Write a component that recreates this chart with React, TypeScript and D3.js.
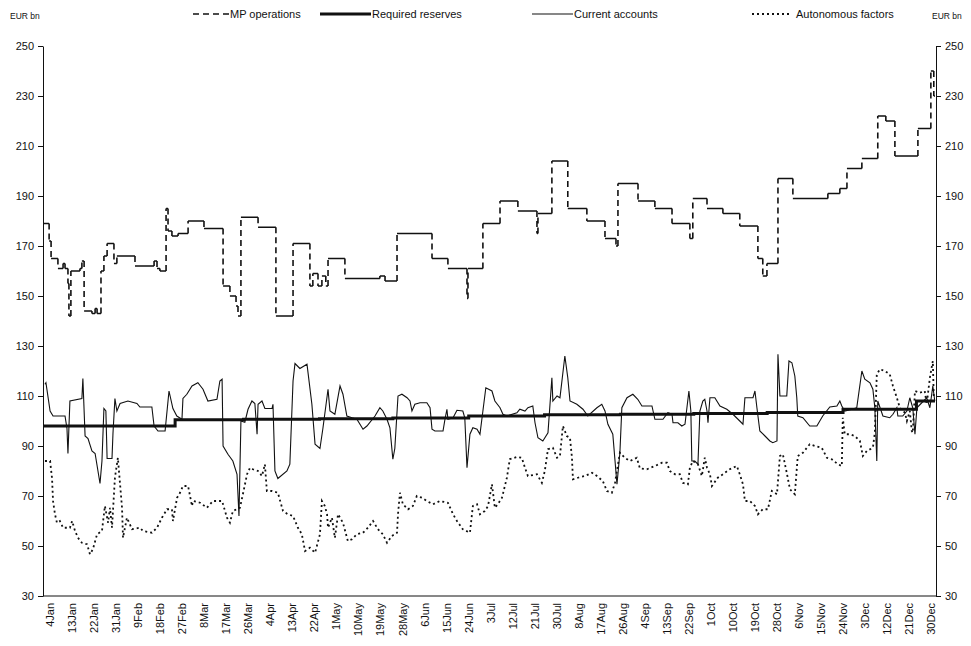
import React, { useEffect, useRef } from 'react';
import * as d3 from 'd3';

// x positions are days counted from 1 Jan 1999
const YEAR_START = new Date(1999, 0, 1);
const YEAR_END = new Date(2000, 0, 1);

const tickLabels = [
  '4Jan', '13Jan', '22Jan', '31Jan', '9Feb', '18Feb', '27Feb', '8Mar', '17Mar', '26Mar',
  '4Apr', '13Apr', '22Apr', '1May', '10May', '19May', '28May', '6Jun', '15Jun', '24Jun',
  '3Jul', '12Jul', '21Jul', '30Jul', '8Aug', '17Aug', '26Aug', '4Sep', '13Sep', '22Sep',
  '1Oct', '10Oct', '19Oct', '28Oct', '6Nov', '15Nov', '24Nov', '3Dec', '12Dec', '21Dec', '30Dec',
];
const yTicks = [30, 50, 70, 90, 110, 130, 150, 170, 190, 210, 230, 250];

// [day, EUR bn]
const mpOperations: [number, number][] = [
  [0, 179], [2.5, 172], [3.3, 165], [6.1, 161], [8.2, 163], [9, 161], [10.2, 155], [10.6, 142],
  [11.4, 160], [15.1, 161], [15.9, 164], [16.8, 144], [20, 143], [21.3, 145], [22.1, 143],
  [23.7, 160], [24.9, 166], [26.2, 171], [29, 163], [30.2, 166], [37.6, 162], [45.4, 164],
  [46.6, 161], [47.8, 160], [50.3, 185], [51.1, 176], [52.7, 174], [55.2, 175], [59.3, 180],
  [65.8, 177], [73.6, 154], [76.4, 150], [78.9, 146], [79.7, 142], [80.9, 181.5], [87.9, 177.5],
  [95.2, 142], [102.2, 171], [109.1, 154], [110.3, 159], [112.4, 154], [114, 158], [115.6, 154],
  [116.5, 165], [123.4, 157], [137.7, 158], [139.8, 156], [144.7, 175], [159, 165], [165.5, 161],
  [173.3, 149], [173.7, 161], [179.8, 179], [186.8, 188], [194.1, 184], [201.9, 175], [202.3, 183],
  [208, 204], [214.5, 185], [222.3, 180], [229.7, 173], [234.2, 170], [235, 195], [243.2, 188],
  [250.1, 185], [257.1, 179], [264.4, 173], [265.6, 189], [271.4, 185], [277.9, 183], [284.8, 178],
  [292.2, 165], [294.2, 158], [295.9, 163], [300.4, 197], [306.5, 189], [320.8, 191], [325.7, 193],
  [328.6, 201], [334.7, 205], [341.2, 222], [344.5, 220], [348.2, 206], [357.6, 217], [362.9, 240],
  [364.1, 230], [364.6, 230],
];

const requiredReserves: [number, number][] = [
  [0, 98], [54, 100.5], [82, 100.7], [113, 100.9], [143, 101.2], [174, 102], [205, 102.5],
  [236, 102.7], [266, 103], [296, 103.4], [327, 104.7], [357, 108], [364.6, 108],
];

const currentAccounts: [number, number][] = [
  [0.8, 114.7], [1.2, 115.3], [2.9, 104], [4.1, 102], [9, 102], [9.8, 97], [10.2, 87], [11, 108],
  [15.9, 109], [16.3, 117], [17.2, 94], [18.4, 93], [20, 88], [21.3, 87], [23.3, 75], [24.1, 84],
  [24.9, 105], [25.7, 104], [26.2, 85], [28.2, 85], [28.6, 95], [29.4, 109], [30.2, 104],
  [31.5, 107], [34.7, 108], [38.4, 107], [39.6, 105.6], [44.5, 105.6], [45.4, 98], [47, 96],
  [49.9, 96], [51.1, 108], [51.5, 112], [53.1, 105], [54.7, 102], [56.8, 100.7], [57.2, 109],
  [58.8, 110.7], [60.9, 114], [63.3, 115.3], [65.4, 112.7], [67.4, 108], [71.1, 108.7], [72.3, 116],
  [73.2, 116.7], [73.6, 90], [75.6, 86.7], [77.6, 84], [79.3, 78.7], [80.1, 62], [80.9, 100],
  [82.5, 99.5], [83.8, 104.7], [85.4, 108], [86.6, 107], [87.5, 94.7], [87.9, 106.7], [89.5, 108],
  [90.7, 105], [93.6, 105], [94, 106.7], [94.8, 80], [96, 77], [99.7, 80], [100.9, 82.7],
  [102.2, 116], [103, 123], [105, 121], [107.9, 122.7], [109.9, 106.7], [111.2, 90.7], [113.2, 89],
  [114.4, 97], [116.5, 112.7], [117.3, 104], [119.3, 102.7], [121.4, 114], [122.6, 110.7],
  [124.2, 102], [126.3, 101.3], [128.3, 100.7], [130.8, 96.7], [132.4, 98], [135.7, 102],
  [137.7, 105.3], [138.9, 104], [140.6, 100.7], [141.8, 97.3], [143, 84.7], [143.8, 89],
  [145.1, 110], [146.7, 110.7], [148.8, 109.3], [150, 108], [150.8, 104], [152, 106.7],
  [154.1, 107.3], [156.9, 107.3], [158.2, 105.3], [159, 96.7], [160.2, 96], [163.5, 96],
  [164.3, 100.7], [165.1, 104.7], [165.5, 100.7], [167.6, 101.3], [169.2, 104.3], [171.6, 104],
  [172.4, 101.3], [173.3, 81.3], [174.5, 94.7], [175.7, 97.3], [177.4, 96.7], [178.6, 94.7],
  [179.8, 104], [181, 113.3], [183.5, 112], [184.7, 108], [186.8, 105.3], [188, 102.7],
  [189.6, 102], [193.7, 103.3], [194.9, 104.7], [197, 104], [198.2, 105.3], [200.2, 106],
  [201.1, 99.3], [202.3, 93.3], [204.3, 92], [206.4, 95.3], [208, 117.3], [208.4, 108],
  [210.1, 110], [211.3, 109.3], [213.3, 126], [214.5, 117.3], [215.4, 108], [218.2, 106.7],
  [220.7, 104.7], [222.7, 102], [226.4, 105.3], [228.4, 106.7], [229.7, 104], [230.9, 98.7],
  [232.9, 94.7], [234.6, 74.7], [235.8, 87.3], [236.6, 105.3], [238.7, 109.3], [241.1, 110.7],
  [243.1, 108.7], [244.8, 106], [248.9, 106], [250.1, 100.7], [253.4, 100.7], [255.4, 103.3],
  [257.1, 102.7], [257.5, 99.3], [259.5, 99.3], [261.1, 98], [262.4, 98.7], [264, 112], [264.8, 104],
  [265.2, 84], [266.4, 84], [267.7, 82.7], [268.5, 104], [269.7, 108], [270.5, 108.7], [271.4, 104],
  [271.8, 99.3], [272.6, 109.3], [274.6, 109.3], [276.7, 106], [279.5, 104.7], [282, 102.7],
  [284.8, 100], [286.1, 98.7], [286.9, 109.3], [290.2, 109.3], [291, 112], [291.8, 105.3],
  [293, 96], [295.1, 94], [297.1, 92], [298.3, 91.3], [300, 92], [300.4, 126.7], [301.2, 110],
  [304, 110], [304.9, 124], [306.1, 123.3], [307.3, 118], [308.1, 109.3], [308.5, 102],
  [310.6, 101.3], [313.4, 98], [316.3, 98], [318.7, 102], [321.6, 105.6], [324.5, 106],
  [325.7, 108], [326.5, 106], [327.7, 104], [330.6, 104.7], [332.6, 105.3], [334.7, 120],
  [335.9, 116.7], [338, 115.3], [339.2, 112.7], [340, 105.3], [340.8, 84], [341.2, 108],
  [343.3, 102], [346.1, 101.3], [347.4, 102.7], [349, 105.3], [349.4, 102], [351.4, 102],
  [353.1, 104], [354.3, 109.3], [355.5, 105.3], [356.4, 94.7], [357.2, 105.3], [359.2, 107.3],
  [361.2, 109.3], [362.5, 105.3], [363.7, 114], [364.5, 108],
];

const autonomousFactors: [number, number][] = [
  [0.8, 84], [2.9, 84], [3.7, 77], [4.1, 68], [4.9, 62.7], [5.7, 59.3], [6.9, 60], [8.2, 57.3],
  [11, 57.3], [11.9, 60], [13.1, 56], [14.3, 53.3], [15.9, 51.3], [18, 50.7], [19.2, 46.7],
  [20.4, 48.7], [22.1, 54.7], [24.1, 56], [25.3, 66], [26.6, 59.3], [27.4, 65.3], [28.2, 57.3],
  [29.4, 77.3], [30.6, 85.3], [32.3, 65.3], [32.7, 53.3], [34.3, 61.3], [36.4, 56.7], [39.6, 57.3],
  [40.9, 56], [44.5, 55.3], [46.6, 57.3], [48.6, 61.3], [50.7, 64.7], [52.7, 64.7], [53.1, 60],
  [54.8, 69.3], [56, 71.3], [57.2, 74], [59.3, 74], [60.9, 66], [61.3, 68], [64.2, 67.3],
  [67, 65.3], [69.5, 68], [73.2, 68], [75.2, 61.3], [76.4, 59.3], [77.6, 64], [80.5, 65.3],
  [81.7, 70.7], [83.4, 78.7], [84.6, 81.3], [85.8, 80.7], [87.9, 80], [89.5, 78], [90.7, 82.7],
  [91.5, 72], [93.6, 72], [96, 71.3], [98.1, 64], [100.1, 62.7], [102.2, 62], [104.2, 57.3],
  [105.8, 54.7], [107.1, 48], [109.1, 49.3], [111.2, 47.3], [113.2, 54.7], [114, 68], [115.2, 66],
  [116.1, 62.7], [116.5, 57.3], [118.1, 61.3], [119.3, 53.3], [120.6, 62.7], [122.6, 59.3],
  [124.6, 52], [126.3, 52.7], [128.3, 54.7], [130.8, 55.3], [132.8, 57.3], [134.9, 60],
  [136.9, 56.7], [138.9, 54.7], [140.6, 51.3], [142.6, 54], [144.7, 55.3], [145.1, 62.7],
  [145.9, 71.3], [147.1, 66.7], [149.2, 64.7], [151.2, 66], [152.8, 70], [154.9, 69.3], [156.9, 68],
  [159.4, 66.7], [162.2, 68], [165.5, 67.3], [167.6, 62.7], [169.2, 60], [171.6, 56.7],
  [174.5, 55.3], [175.7, 66], [177.4, 66.7], [178.6, 62.7], [180.6, 64], [181.9, 66], [183.5, 74.7],
  [184.7, 65.3], [185.9, 66.7], [187.6, 69.3], [189.6, 77.3], [190.8, 84.7], [193.7, 85.6],
  [195.7, 85.3], [197, 81.3], [198.2, 78], [201.9, 78.7], [203.9, 75.3], [205.1, 80], [206.4, 88.7],
  [208.4, 89.3], [210.1, 85.3], [211.3, 86], [212.5, 98], [214.1, 94], [215.4, 93.3], [216.2, 85.3],
  [216.6, 76.7], [218.6, 77.3], [221.5, 78], [224.4, 79.3], [226.4, 78], [228.8, 76], [230.5, 72],
  [232.5, 71.3], [233.8, 75.3], [235.8, 87.3], [237.8, 85.3], [239.9, 84], [242.7, 85.3], [244, 81],
  [246.8, 80.7], [250.1, 82], [253, 83.3], [255, 83.3], [256.2, 80], [258.3, 78.7], [260.3, 78.7],
  [261.5, 75.3], [263.6, 74.7], [264.4, 81.3], [265.6, 84], [267.7, 82.7], [269.3, 78],
  [270.5, 85.3], [271.4, 81.3], [272.6, 78.7], [273.4, 74], [275.8, 77.3], [277.9, 78.7],
  [280.7, 80.7], [283.6, 82], [284.8, 78.7], [286.1, 74.7], [286.9, 68], [288.9, 68], [291, 66],
  [292.2, 62.7], [294.2, 64.7], [296.3, 64.7], [297.9, 72], [300, 70.7], [301.2, 86], [302.4, 86.7],
  [304, 79.3], [305.3, 72.7], [307.3, 70.7], [308.5, 86], [310.6, 87.3], [313.4, 90.7], [315.5, 90],
  [318.3, 89.3], [320.4, 85.3], [322.4, 84.7], [324.9, 82.7], [326.5, 82], [326.9, 101.3],
  [327.7, 94.7], [329.8, 94.7], [331.8, 94], [333.9, 92], [335.1, 86], [336.7, 88], [339.2, 89.3],
  [340, 95.3], [340.8, 118.7], [342.1, 120.7], [344.1, 120], [346.1, 118.7], [347.4, 114],
  [349, 109.3], [350.2, 105.3], [352.3, 103.3], [353.1, 100], [354.3, 104], [355.1, 96],
  [355.5, 95.3], [356.4, 112], [358.4, 111.3], [360.4, 112], [361.2, 106.7], [362.5, 117.3],
  [363.7, 124], [364.1, 109.3],
];

const legendLabels = ['MP operations', 'Required reserves', 'Current accounts', 'Autonomous factors'];
const unitLabel = 'EUR bn';

const W = 971;
const H = 646;
const FONT = '"Liberation Sans", Arial, Helvetica, sans-serif';

const toDate = (d: number) => new Date(YEAR_START.getTime() + d * 864e5);
const parseLabel = d3.timeParse('%d%b%Y');

const App = () => {
  const svgRef = useRef<SVGSVGElement>(null);

  useEffect(() => {
    const svg = d3.select(svgRef.current);
    svg.selectAll('*').remove();

    const left = 43;
    const right = 936;
    const top = 46;
    const bottom = 596;

    const x = d3.scaleTime().domain([YEAR_START, YEAR_END]).range([left, right]);
    const y = d3.scaleLinear().domain([30, 250]).range([bottom, top]);

    svg.append('rect').attr('width', W).attr('height', H).attr('fill', '#fff');

    // axes
    const axisL = svg.append('g').attr('transform', `translate(${left},0)`)
      .call(d3.axisLeft(y).tickValues(yTicks).tickSize(5).tickSizeOuter(0).tickPadding(4));
    const axisR = svg.append('g').attr('transform', `translate(${right},0)`)
      .call(d3.axisRight(y).tickValues(yTicks).tickSize(5).tickSizeOuter(0).tickPadding(4));
    [axisL, axisR].forEach((g) => {
      g.selectAll('text').attr('font-family', FONT).attr('font-size', 11).attr('fill', '#111');
      g.selectAll('line,path').attr('stroke', '#111');
    });

    svg.append('line')
      .attr('x1', left).attr('x2', right).attr('y1', bottom).attr('y2', bottom)
      .attr('stroke', '#111');

    svg.append('g')
      .selectAll('text')
      .data(tickLabels)
      .enter()
      .append('text')
      .attr('transform', (d) => `translate(${x(parseLabel(d + '1999') as Date)},${bottom + 7}) rotate(-90)`)
      .attr('dy', '0.35em')
      .attr('text-anchor', 'end')
      .attr('font-family', FONT)
      .attr('font-size', 11)
      .attr('fill', '#111')
      .text((d) => d);

    const line = d3.line<[number, number]>()
      .x((d) => x(toDate(d[0])))
      .y((d) => y(d[1]));

    // required reserves (thick step line)
    svg.append('path')
      .datum(requiredReserves)
      .attr('d', line.curve(d3.curveStepAfter))
      .attr('fill', 'none')
      .attr('stroke', '#111')
      .attr('stroke-width', 3);

    line.curve(d3.curveLinear);

    svg.append('path')
      .datum(currentAccounts)
      .attr('d', line)
      .attr('fill', 'none')
      .attr('stroke', '#111')
      .attr('stroke-width', 1.1);

    svg.append('path')
      .datum(autonomousFactors)
      .attr('d', line)
      .attr('fill', 'none')
      .attr('stroke', '#111')
      .attr('stroke-width', 1.8)
      .attr('stroke-dasharray', '2,3');

    // MP operations: flat stretches solid, jumps dashed
    let flat = '';
    let jumps = '';
    mpOperations.forEach((d, i) => {
      if (i === mpOperations.length - 1) return;
      const n = mpOperations[i + 1];
      const x0 = x(toDate(d[0]));
      const x1 = x(toDate(n[0]));
      flat += `M${x0},${y(d[1])}H${x1}`;
      jumps += `M${x1},${y(d[1])}V${y(n[1])}`;
    });
    svg.append('path').attr('d', flat).attr('fill', 'none').attr('stroke', '#111').attr('stroke-width', 1.6);
    svg.append('path').attr('d', jumps).attr('fill', 'none').attr('stroke', '#111')
      .attr('stroke-width', 1.6).attr('stroke-dasharray', '6,4');

    // legend
    const legend = svg.append('g').attr('font-family', FONT).attr('fill', '#111');
    const ly = 14;
    const items = [
      { x1: 193, x2: 229, w: 1.6, dash: '6,4' },
      { x1: 320, x2: 371, w: 3, dash: null },
      { x1: 532, x2: 573, w: 1.1, dash: null },
      { x1: 752, x2: 792, w: 1.8, dash: '2,3' },
    ];
    items.forEach((it, i) => {
      legend.append('line')
        .attr('x1', it.x1).attr('x2', it.x2).attr('y1', ly).attr('y2', ly)
        .attr('stroke', '#111').attr('stroke-width', it.w)
        .attr('stroke-dasharray', it.dash);
      legend.append('text')
        .attr('x', it.x2 + (i === 3 ? 4 : 1)).attr('y', ly).attr('dy', '0.35em')
        .attr('font-size', 11)
        .text(legendLabels[i]);
    });

    legend.append('text').attr('x', 10).attr('y', 19).attr('font-size', 8.5).text(unitLabel);
    legend.append('text').attr('x', 932).attr('y', 19).attr('font-size', 8.5).text(unitLabel);
  }, []);

  return (
    <svg
      ref={svgRef}
      width={W}
      height={H}
      style={{ position: 'absolute', left: 0, top: 0, display: 'block' }}
    />
  );
};

export default App;
